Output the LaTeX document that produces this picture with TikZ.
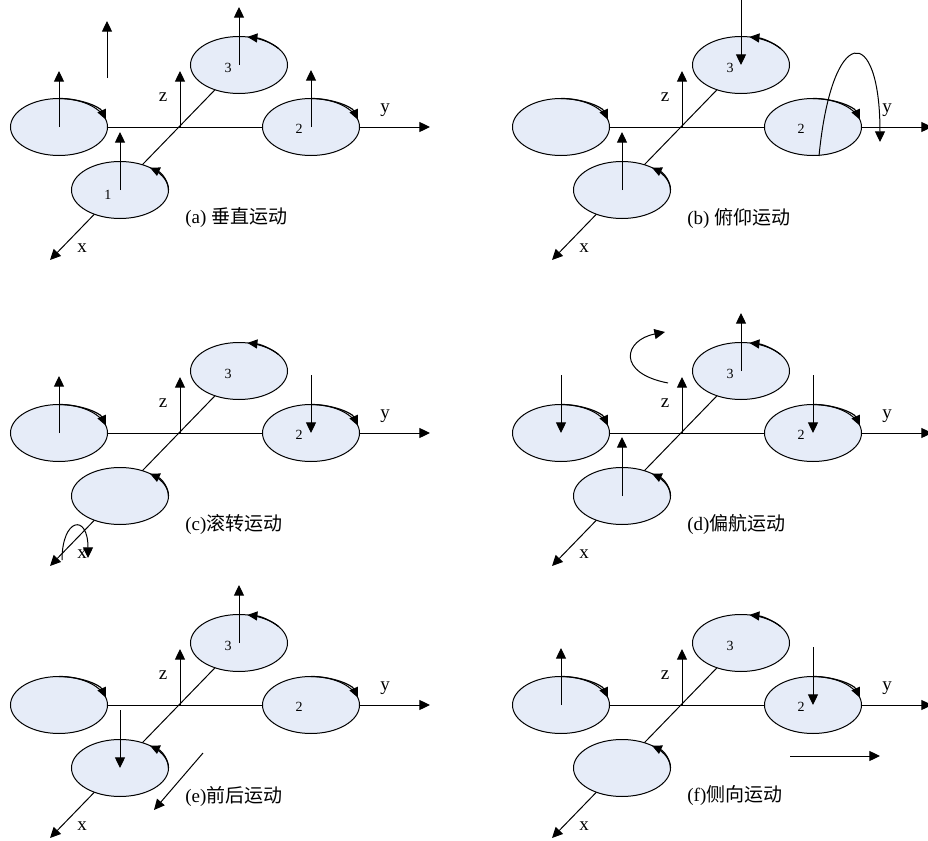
\documentclass[tikz,border=0pt]{standalone}
\usepackage{fontspec}
\setmainfont{Liberation Serif}
\newfontfamily\cjk{Noto Sans CJK SC}
\usetikzlibrary{shapes.geometric,arrows.meta,calc}
\definecolor{rotorblue}{RGB}{230,236,248}

% axes, four rotors with spin arrows, axis labels and caption
\newcommand{\rotorpanel}[1]{%
  \coordinate (o) at (0,0);
  \coordinate (c1) at (-60,-63);
  \coordinate (c2) at (131,0);
  \coordinate (c3) at (59,62);
  \coordinate (c4) at (-121,0);
  \coordinate (ytip) at (250,0);
  \coordinate (ztip) at (0,56);
  \coordinate (xtip) at (-130,-133);
  \draw[axisline] (c4) -- (ytip);
  \draw[axisline] (c3) -- (xtip);
  \draw[axisline] (o) -- (ztip);
  \node[rotor] (e1) at (c1) {};
  \node[rotor] (e2) at (c2) {};
  \node[rotor] (e3) at (c3) {};
  \node[rotor] (e4) at (c4) {};
  \draw[spin] ($(c4)+(90:24.25pt and 14.25pt)$) arc[start angle=90,end angle=15,x radius=24.25pt,y radius=14.25pt];
  \draw[spin] ($(c2)+(90:24.25pt and 14.25pt)$) arc[start angle=90,end angle=15,x radius=24.25pt,y radius=14.25pt];
  \draw[spin] ($(c3)+(35:24.25pt and 14.25pt)$) arc[start angle=35,end angle=80,x radius=24.25pt,y radius=14.25pt];
  \draw[spin] ($(c1)+(0:24.25pt and 14.25pt)$) arc[start angle=0,end angle=52,x radius=24.25pt,y radius=14.25pt];
  \node[num] (n2) at ($(c2)+(-12,-2)$) {2};
  \node[num] (n3) at ($(c3)+(-11,-3)$) {3};
  \node[lbl] (lz) at (-17,30) {z};
  \node[lbl] (ly) at (205,17) {y};
  \node[lbl] (lx) at (-98,-121) {x};
  \node[capt] (caption) at (5,-91) {#1};
}

\begin{document}
\begin{tikzpicture}[x=0.5pt,y=0.5pt]
  \tikzstyle{axisline}=[-{Triangle[length=5.3pt,width=5pt]},line width=0.5pt]
  \tikzstyle{rotor}=[ellipse,draw,line width=0.5pt,fill=rotorblue,minimum width=48.5pt,minimum height=28.5pt,inner sep=0pt]
  \tikzstyle{spin}=[-{Triangle[length=5pt,width=4.5pt]},line width=0.6pt]
  \tikzstyle{thrust}=[-{Triangle[length=5.3pt,width=5pt]},line width=0.5pt]
  \tikzstyle{num}=[font=\fontsize{7}{8}\selectfont,inner sep=0pt]
  \tikzstyle{lbl}=[font=\fontsize{9.5}{11}\selectfont,inner sep=0pt]
  \tikzstyle{capt}=[font=\fontsize{9.5}{11}\selectfont,anchor=west,inner sep=0pt]
  \useasboundingbox (0,-841) rectangle (928,0);

  % (a)
  \begin{scope}[shift={(180,-127)}]
    \rotorpanel{(a) {\cjk 垂直运动}}
    \node[num] (n1) at ($(c1)+(-12,-5)$) {1};
    \coordinate (a1) at (-60,-5);
    \coordinate (a2) at (131,57);
    \coordinate (a3) at (59,120);
    \coordinate (a4) at (-121,56);
    \coordinate (a5) at (-73,49);
    \coordinate (a6) at (-73,106);
    \draw[thrust] (c1) -- (a1);
    \draw[thrust] (c2) -- (a2);
    \draw[thrust] (c3) -- (a3);
    \draw[thrust] (c4) -- (a4);
    \draw[thrust] (a5) -- (a6);
  \end{scope}

  % (b)
  \begin{scope}[shift={(682,-127)}]
    \rotorpanel{(b) {\cjk 俯仰运动}}
    \coordinate (b1) at (-60,-5);
    \coordinate (b3) at (59,128);
    \coordinate (p0) at (137,-29);
    \coordinate (p1) at (198,-15);
    \draw[thrust] (c1) -- (b1);
    \draw[thrust] (b3) -- (c3);
    \draw[thrust] (p0) .. controls (150,104) and (198,104) .. (p1);
  \end{scope}

  % (c)
  \begin{scope}[shift={(180,-433)}]
    \rotorpanel{(c){\cjk 滚转运动}}
    \coordinate (r2) at (131,58);
    \coordinate (r4) at (-121,57);
    \coordinate (r5) at (-118,-127);
    \coordinate (r6) at (-92,-125);
    \draw[thrust] (r2) -- (c2);
    \draw[thrust] (c4) -- (r4);
    \draw[thrust] (r5) .. controls (-118,-85) and (-92,-80) .. (r6);
  \end{scope}

  % (d)
  \begin{scope}[shift={(682,-433)}]
    \rotorpanel{(d){\cjk 偏航运动}}
    \coordinate (d1) at (-60,-4);
    \coordinate (d2) at (131,58);
    \coordinate (d3) at (59,120);
    \coordinate (d4) at (-121,58);
    \coordinate (w0) at (-14,50);
    \coordinate (w1) at (-17,101);
    \draw[thrust] (c1) -- (d1);
    \draw[thrust] (d2) -- (c2);
    \draw[thrust] (c3) -- (d3);
    \draw[thrust] (d4) -- (c4);
    \draw[thrust] (w0) .. controls (-66,60) and (-58,93) .. (w1);
  \end{scope}

  % (e)
  \begin{scope}[shift={(180,-705)}]
    \rotorpanel{(e){\cjk 前后运动}}
    \coordinate (u1) at (-60,-5);
    \coordinate (u3) at (59,120);
    \coordinate (m0) at (23,-48);
    \coordinate (m1) at (-26,-105);
    \draw[thrust] (u1) -- (c1);
    \draw[thrust] (c3) -- (u3);
    \draw[thrust] (m0) -- (m1);
  \end{scope}

  % (f)
  \begin{scope}[shift={(682,-705)}]
    \rotorpanel{(f){\cjk 侧向运动}}
    \coordinate (s2) at (131,58);
    \coordinate (s4) at (-121,57);
    \coordinate (h0) at (108,-51);
    \coordinate (h1) at (198,-51);
    \draw[thrust] (s2) -- (c2);
    \draw[thrust] (c4) -- (s4);
    \draw[thrust] (h0) -- (h1);
  \end{scope}
\end{tikzpicture}
\end{document}
